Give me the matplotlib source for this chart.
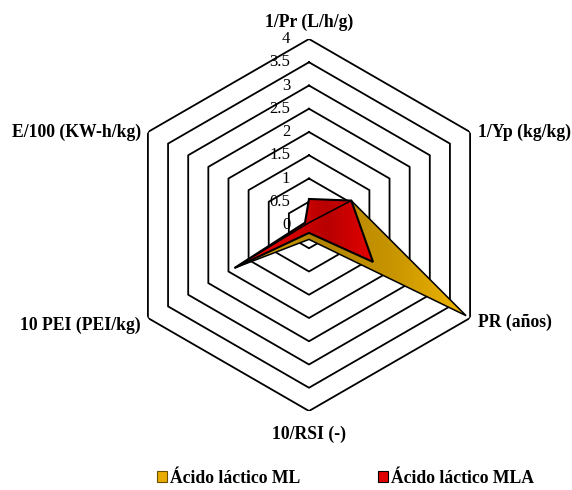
import numpy as np
import matplotlib
matplotlib.use('Agg')
import matplotlib.pyplot as plt
from matplotlib.patches import Polygon, Patch
from matplotlib.colors import LinearSegmentedColormap

plt.rcParams['font.family'] = ['Liberation Serif', 'DejaVu Serif']

categorias = ['1/Pr (L/h/g)', '1/Yp (kg/kg)', 'PR (años)', '10/RSI (-)',
              '10 PEI (PEI/kg)', 'E/100 (KW-h/kg)']
ml = [0.05, 1.05, 3.9, 0.31, 1.85, 0.05]
mla = [0.56, 1.05, 1.59, 0.17, 1.85, 0.1]
niveles = [0, 0.5, 1, 1.5, 2, 2.5, 3, 3.5, 4]
etiquetas_niveles = ['0', '0.5', '1', '1.5', '2', '2.5', '3', '3.5', '4']
series = ['Ácido láctico ML', 'Ácido láctico MLA']

W, H = 572, 490
cx, cy, R = 309, 225, 186
fig = plt.figure(figsize=(W / 100, H / 100), dpi=100)
rect = [(cx - R) / W, (H - cy - R) / H, 2 * R / W, 2 * R / H]

ax = fig.add_axes(rect, projection='polar')
ax.set_theta_offset(np.pi / 2)
ax.set_theta_direction(-1)
ax.set_ylim(0, 4)
ax.grid(False)
ax.spines['polar'].set_visible(False)
ax.set_xticks([])
ax.set_yticks([])
ax.patch.set_alpha(0)

ang = np.linspace(0, 2 * np.pi, len(categorias), endpoint=False)
ang_c = np.append(ang, ang[0])

# hexagonos de la rejilla
for n in niveles[1:]:
    ax.plot(ang_c, [n] * len(ang_c), color='black', lw=1.3, zorder=1)

# capa cartesiana encima para los rellenos con degradado
capa = fig.add_axes(rect)
capa.set_xlim(0, 1)
capa.set_ylim(0, 1)
capa.axis('off')

g = np.linspace(0, 1, 300)
X, Y = np.meshgrid(g, g)

cm_oro = LinearSegmentedColormap.from_list('oro', ['#F0B400', '#B08300', '#C99600', '#F5BA00'])
cm_rojo = LinearSegmentedColormap.from_list('rojo', ['#F00000', '#B80000', '#FF0000'])


def rellenar(valores, cmap, z, borde, grosor):
    verts = np.column_stack([ang, valores])
    poly = Polygon(verts, closed=True, transform=ax.transData,
                   facecolor='none', edgecolor=borde, lw=grosor, zorder=3)
    im = capa.imshow(z, extent=[0, 1, 0, 1], origin='lower', cmap=cmap,
                     aspect='auto', zorder=2)
    im.set_clip_path(poly)
    capa.add_patch(poly)


z_oro = np.clip((X - 0.3) / 0.65, 0, 1)
rellenar(ml, cm_oro, z_oro, 'black', 1.1)
z_rojo = np.clip((X - 0.35) / 0.4, 0, 1)
rellenar(mla, cm_rojo, z_rojo, 'black', 1.5)

# etiquetas de la escala
for n, t in zip(niveles, etiquetas_niveles):
    capa.annotate(t, xy=(0, n), xycoords=ax.transData, xytext=(-13.5, 0),
                  textcoords='offset points', ha='right', va='center',
                  fontsize=12, zorder=5)

# etiquetas de categorias
desp = [(0, 12, 'center'), (6, 0, 'left'), (6, -3, 'left'),
        (0, -17, 'center'), (-5, -5, 'right'), (-5, 0, 'right')]
for a, nombre, (dx, dy, ha) in zip(ang, categorias, desp):
    capa.annotate(nombre, xy=(a, 4), xycoords=ax.transData, xytext=(dx, dy),
                  textcoords='offset points', ha=ha, va='center',
                  fontsize=12.7, fontweight='bold', zorder=5)

manijas = [Patch(facecolor='#E8AC00', edgecolor='#6b4f00', lw=0.8),
           Patch(facecolor='#E00000', edgecolor='black', lw=0.8)]
fig.legend(handles=manijas, labels=series, loc='center',
           bbox_to_anchor=(0.604, 0.024), ncol=2, frameon=False,
           handlelength=0.55, handleheight=0.55, handletextpad=0.2,
           columnspacing=4.4, borderpad=0.1, prop={'weight': 'bold', 'size': 12.7})

fig.savefig('out.png', dpi=100)
